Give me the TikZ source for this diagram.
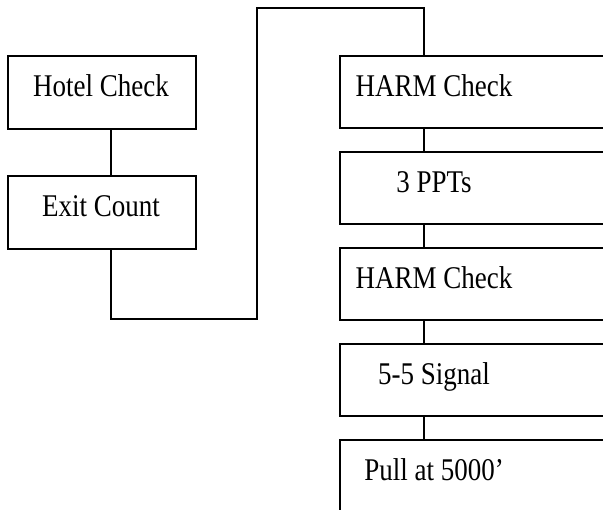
\documentclass[tikz,border=0pt]{standalone}
\usepackage{fontspec}
\setmainfont{Liberation Serif}
\begin{document}
\begin{tikzpicture}[x=1pt,y=1pt,
  box/.style={draw=black, line width=1.5pt, rectangle, inner sep=0pt},
  lbox/.style={box, minimum width=188pt, minimum height=73pt},
  rbox/.style={box, minimum width=360pt, minimum height=72pt},
  txt/.style={anchor=base, inner sep=0pt, yscale=1.17, transform shape, font=\fontsize{27}{30}\selectfont},
  conn/.style={draw=black, line width=1.1pt}]
\useasboundingbox (0,0) rectangle (603,510);
\clip (0,0) rectangle (603,510);
\fill[white] (0,0) rectangle (603,510);
% left column
\node[lbox] (hotel) at (102,417.5) {};
\node[lbox] (exit) at (102,297.5) {};
\node[txt] (thotel) at (101,413) {Hotel Check};
\node[txt] (texit) at (101,293) {Exit Count};
% right column
\node[rbox] (harmA) at (520,418) {};
\node[rbox] (ppts) at (520,322) {};
\node[rbox] (harmB) at (520,226) {};
\node[rbox] (signal) at (520,130) {};
\node[rbox] (pull) at (520,34) {};
\node[txt] (tharmA) at (434,413) {HARM Check};
\node[txt] (tppts) at (434,317) {3 PPTs};
\node[txt] (tharmB) at (434,221) {HARM Check};
\node[txt] (tsignal) at (434,125) {5-5 Signal};
\node[txt] (tpull) at (434,29) {Pull at 5000’};
% connector x positions and bends
\coordinate (lc) at (111,0);
\coordinate (rc) at (424,0);
\coordinate (lowbend) at (257,191);
\coordinate (highbend) at (257,502);
\draw[conn] (hotel.south -| lc) -- (exit.north -| lc);
\draw[conn] (exit.south -| lc) |- (lowbend) -- (highbend) -| (harmA.north -| rc);
\draw[conn] (harmA.south -| rc) -- (ppts.north -| rc);
\draw[conn] (ppts.south -| rc) -- (harmB.north -| rc);
\draw[conn] (harmB.south -| rc) -- (signal.north -| rc);
\draw[conn] (signal.south -| rc) -- (pull.north -| rc);
\end{tikzpicture}
\end{document}
